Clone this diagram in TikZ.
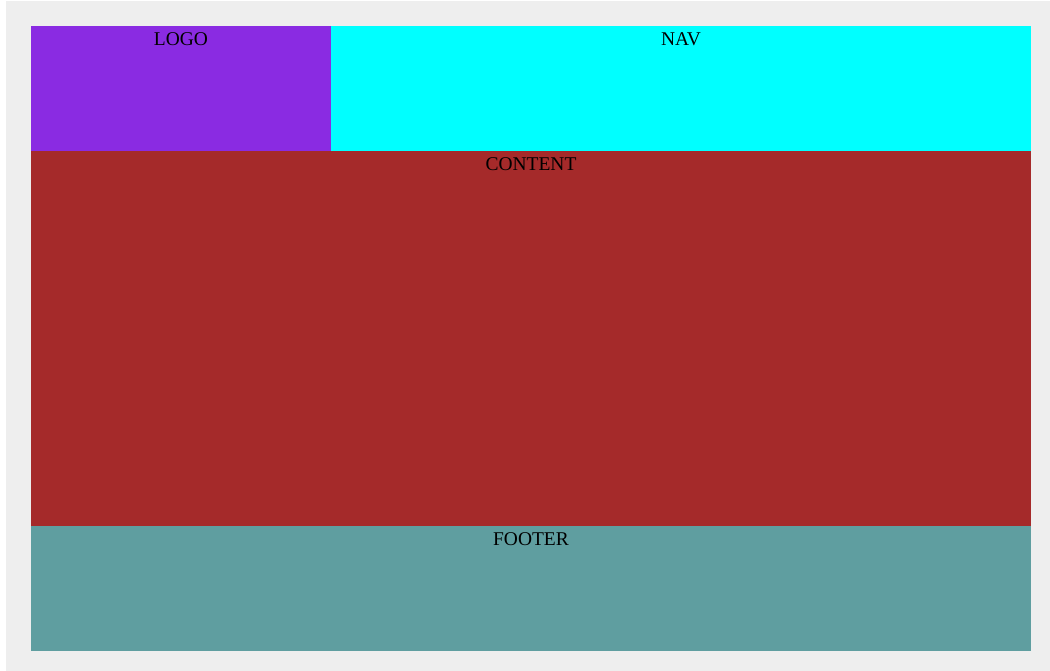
\documentclass[tikz,border=0pt]{standalone}
\usepackage{fontspec}
\setmainfont{Liberation Serif}
\definecolor{pagegray}{HTML}{EEEEEE}
\definecolor{logoc}{HTML}{8A2BE2}
\definecolor{navc}{HTML}{00FFFF}
\definecolor{contentc}{HTML}{A52A2A}
\definecolor{footerc}{HTML}{5F9EA0}
\tikzset{
  area/.style={draw=none, inner sep=0pt, outer sep=0pt},
  lbl/.style={anchor=base, inner sep=0pt, font=\fontsize{14.6pt}{17pt}\selectfont, text=black}
}
\begin{document}
\begin{tikzpicture}[x=0.75pt, y=-0.75pt]
\useasboundingbox (0,0) rectangle (1050,671);
\fill[white] (0,0) rectangle (1050,671);
\fill[pagegray] (6,1) rectangle (1050,671);
\fill[logoc] (31,26) rectangle (331,151);
\fill[navc] (331,26) rectangle (1031,151);
\fill[contentc] (31,151) rectangle (1031,526);
\fill[footerc] (31,526) rectangle (1031,651);
\node[lbl] (logo) at (181,45.3) {LOGO};
\node[lbl] (nav) at (681,45.3) {NAV};
\node[lbl] (content) at (531,170.3) {CONTENT};
\node[lbl] (footer) at (531,545.3) {FOOTER};
\end{tikzpicture}
\end{document}
